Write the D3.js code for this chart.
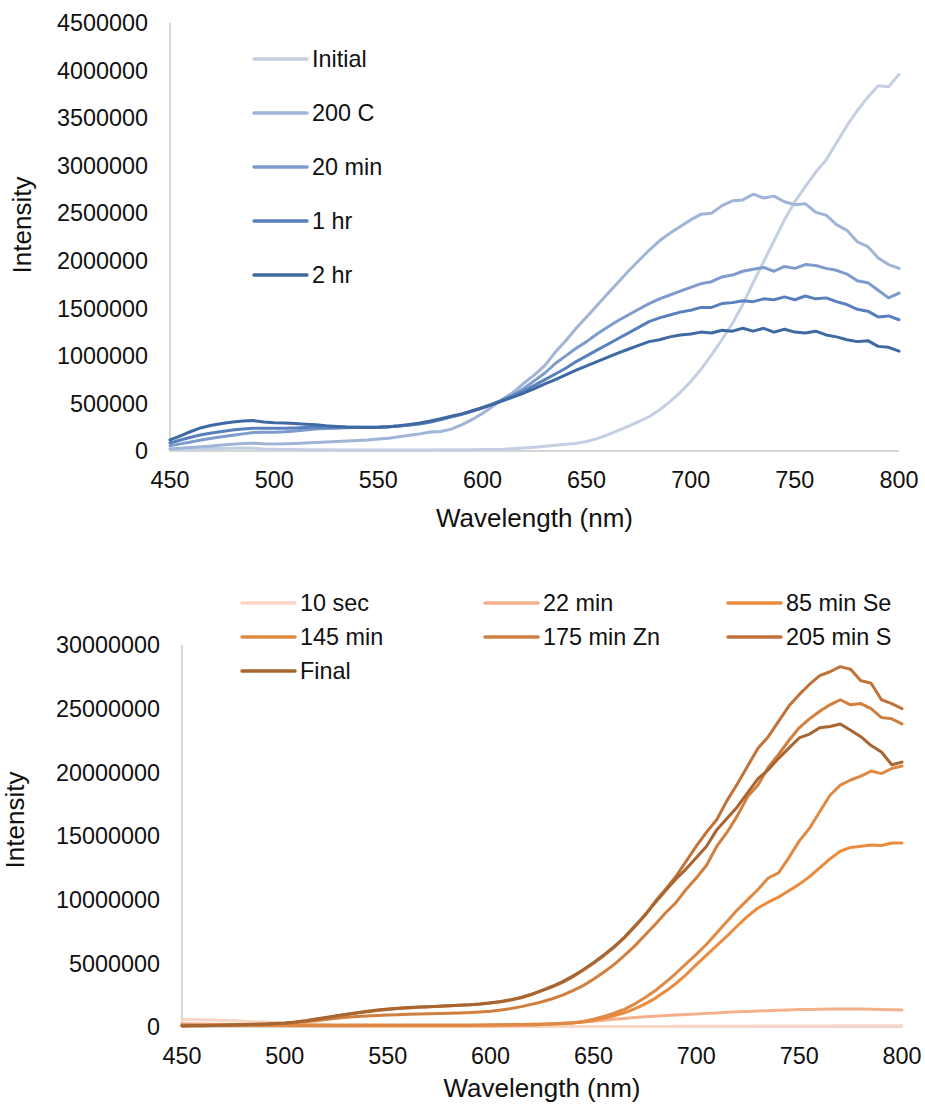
<!DOCTYPE html>
<html>
<head>
<meta charset="utf-8">
<script src="https://cdn.jsdelivr.net/npm/d3@7/dist/d3.min.js"></script>
<style>
  html, body { margin: 0; padding: 0; background: #fff; }
  svg { display: block; font-family: "Liberation Sans", Arial, sans-serif; }
</style>
</head>
<body>
<svg id="chart" width="925" height="1107"></svg>
<script>
// Shared wavelength grid (nm), 5 nm steps
const wavelengths = d3.range(450, 801, 5);

// ---- Upper panel: emission spectra, blue series ----
const topNames = ["Initial", "200 C", "20 min", "1 hr", "2 hr"];
const topColors = ["#c4cfe4", "#a0b4d8", "#7d9bcc", "#5880be", "#3f69a3"];
const topTicksY = [0, 500000, 1000000, 1500000, 2000000, 2500000, 3000000, 3500000, 4000000, 4500000];
const ticksX = [450, 500, 550, 600, 650, 700, 750, 800];

const initialVals = [
  15000, 18000, 20000, 22000, 25000, 27000, 30000, 32000, 30000, 22000,
  18000, 16000, 15000, 14000, 13000, 12000, 11000, 10000, 10000, 10000,
  10000, 10000, 10000, 10000, 11000, 11000, 12000, 12000, 13000, 14000,
  15000, 17000, 19000, 25000, 32000, 40000, 50000, 60000, 70000, 80000,
  100000, 130000, 170000, 215000, 260000, 310000, 360000, 430000, 520000, 615000,
  730000, 860000, 1010000, 1170000, 1340000, 1540000, 1770000, 1990000, 2210000, 2430000,
  2620000, 2780000, 2930000, 3060000, 3240000, 3420000, 3580000, 3720000, 3840000, 3830000,
  3960000
];
const c200Vals = [
  21000, 28000, 36000, 45000, 52000, 62000, 72000, 80000, 82000, 76000,
  73000, 76000, 80000, 85000, 90000, 95000, 100000, 105000, 110000, 115000,
  125000, 135000, 150000, 165000, 180000, 200000, 205000, 230000, 275000, 330000,
  395000, 470000, 550000, 620000, 715000, 800000, 900000, 1040000, 1160000, 1290000,
  1410000, 1530000, 1650000, 1770000, 1890000, 2000000, 2110000, 2210000, 2290000, 2360000,
  2430000, 2490000, 2500000, 2580000, 2630000, 2640000, 2700000, 2660000, 2680000, 2620000,
  2590000, 2600000, 2510000, 2480000, 2380000, 2320000, 2200000, 2150000, 2030000, 1960000,
  1920000
];
const m20Vals = [
  56000, 75000, 95000, 115000, 135000, 150000, 165000, 180000, 195000, 196000,
  198000, 202000, 210000, 220000, 230000, 236000, 240000, 244000, 247000, 249000,
  250000, 255000, 262000, 272000, 287000, 305000, 330000, 360000, 385000, 420000,
  455000, 495000, 540000, 590000, 660000, 740000, 820000, 920000, 1000000, 1080000,
  1150000, 1230000, 1300000, 1370000, 1430000, 1490000, 1550000, 1600000, 1640000, 1680000,
  1720000, 1760000, 1780000, 1830000, 1850000, 1890000, 1910000, 1930000, 1890000, 1940000,
  1920000, 1960000, 1950000, 1920000, 1900000, 1860000, 1790000, 1770000, 1690000, 1610000,
  1660000
];
const h1Vals = [
  84000, 115000, 145000, 170000, 189000, 205000, 220000, 232000, 240000, 238000,
  238000, 240000, 243000, 246000, 249000, 250000, 250000, 250000, 250000, 250000,
  250000, 255000, 262000, 272000, 287000, 305000, 330000, 360000, 385000, 420000,
  455000, 495000, 540000, 585000, 630000, 690000, 750000, 810000, 870000, 940000,
  1000000, 1060000, 1120000, 1180000, 1240000, 1300000, 1360000, 1400000, 1430000, 1460000,
  1480000, 1510000, 1510000, 1550000, 1560000, 1580000, 1570000, 1600000, 1590000, 1620000,
  1590000, 1630000, 1600000, 1610000, 1570000, 1540000, 1490000, 1470000, 1410000, 1420000,
  1380000
];
const h2Vals = [
  116000, 160000, 205000, 245000, 270000, 290000, 305000, 315000, 320000, 305000,
  298000, 294000, 290000, 282000, 275000, 265000, 258000, 252000, 249000, 248000,
  249000, 255000, 265000, 280000, 295000, 315000, 340000, 365000, 390000, 420000,
  455000, 490000, 530000, 570000, 610000, 655000, 705000, 750000, 800000, 850000,
  895000, 940000, 985000, 1030000, 1070000, 1110000, 1150000, 1170000, 1200000, 1220000,
  1230000, 1250000, 1240000, 1270000, 1260000, 1290000, 1260000, 1290000, 1250000, 1280000,
  1250000, 1240000, 1260000, 1220000, 1200000, 1170000, 1150000, 1160000, 1100000, 1090000,
  1050000
];
const topSeries = [initialVals, c200Vals, m20Vals, h1Vals, h2Vals];

// ---- Lower panel: emission spectra, orange series ----
const bottomNames = ["10 sec", "22 min", "85 min Se", "145 min", "175 min Zn", "205 min S", "Final"];
const bottomColors = ["#f9d5c6", "#f4b08c", "#ea8b3e", "#df8a44", "#d07f3e", "#c07238", "#a8652f"];
const bottomTicksY = [0, 5000000, 10000000, 15000000, 20000000, 25000000, 30000000];

const sec10Vals = [
  580000, 580000, 570000, 550000, 520000, 490000, 450000, 420000, 400000, 360000,
  320000, 280000, 240000, 200000, 160000, 120000, 90000, 60000, 40000, 40000,
  40000, 40000, 40000, 40000, 40000, 40000, 40000, 40000, 40000, 40000,
  30000, 30000, 30000, 30000, 30000, 30000, 30000, 30000, 30000, 30000,
  30000, 30000, 35000, 35000, 40000, 40000, 45000, 45000, 50000, 50000,
  55000, 55000, 60000, 60000, 65000, 65000, 70000, 70000, 75000, 75000,
  80000, 80000, 85000, 85000, 90000, 90000, 95000, 95000, 100000, 100000,
  100000
];
const min22Vals = [
  250000, 240000, 230000, 220000, 205000, 190000, 175000, 160000, 145000, 130000,
  115000, 100000, 90000, 85000, 80000, 80000, 80000, 80000, 80000, 80000,
  80000, 80000, 80000, 80000, 80000, 80000, 80000, 80000, 80000, 80000,
  80000, 90000, 100000, 110000, 120000, 170000, 220000, 270000, 330000, 390000,
  460000, 530000, 600000, 670000, 740000, 800000, 850000, 900000, 950000, 990000,
  1030000, 1070000, 1100000, 1150000, 1190000, 1220000, 1250000, 1280000, 1310000, 1340000,
  1370000, 1380000, 1400000, 1410000, 1420000, 1420000, 1410000, 1400000, 1380000, 1360000,
  1340000
];
const se85Vals = [
  120000, 120000, 120000, 120000, 120000, 120000, 120000, 120000, 120000, 120000,
  120000, 120000, 120000, 120000, 120000, 120000, 120000, 120000, 120000, 120000,
  120000, 120000, 120000, 120000, 120000, 120000, 120000, 120000, 120000, 130000,
  140000, 150000, 160000, 170000, 180000, 200000, 230000, 270000, 310000, 400000,
  520000, 680000, 880000, 1120000, 1420000, 1800000, 2250000, 2800000, 3400000, 4100000,
  4900000, 5650000, 6400000, 7150000, 7950000, 8700000, 9350000, 9800000, 10200000, 10700000,
  11200000, 11800000, 12500000, 13200000, 13800000, 14100000, 14200000, 14300000, 14250000, 14450000,
  14450000
];
const min145Vals = [
  150000, 150000, 150000, 150000, 150000, 150000, 150000, 150000, 150000, 150000,
  150000, 150000, 150000, 150000, 150000, 150000, 150000, 150000, 150000, 150000,
  150000, 150000, 150000, 150000, 150000, 150000, 150000, 150000, 150000, 160000,
  170000, 180000, 190000, 200000, 210000, 230000, 260000, 300000, 340000, 440000,
  620000, 820000, 1080000, 1380000, 1800000, 2300000, 2850000, 3500000, 4200000, 4950000,
  5700000, 6500000, 7400000, 8300000, 9200000, 10000000, 10800000, 11700000, 12100000, 13300000,
  14600000, 15600000, 16900000, 18200000, 19000000, 19400000, 19700000, 20100000, 19900000, 20300000,
  20500000
];
const zn175Vals = [
  80000, 90000, 100000, 110000, 120000, 135000, 150000, 170000, 200000, 240000,
  280000, 350000, 420000, 500000, 580000, 680000, 760000, 820000, 870000, 910000,
  940000, 970000, 1000000, 1020000, 1040000, 1060000, 1080000, 1100000, 1130000, 1180000,
  1240000, 1330000, 1450000, 1600000, 1780000, 1980000, 2220000, 2500000, 2850000, 3250000,
  3750000, 4300000, 4900000, 5600000, 6350000, 7200000, 8050000, 8950000, 9750000, 10800000,
  11700000, 12700000, 14200000, 15300000, 16600000, 18100000, 19000000, 20400000, 21400000, 22500000,
  23500000, 24200000, 24800000, 25300000, 25700000, 25300000, 25400000, 25000000, 24300000, 24200000,
  23800000
];
const s205Vals = [
  80000, 90000, 100000, 115000, 130000, 150000, 170000, 195000, 220000, 260000,
  300000, 380000, 480000, 600000, 720000, 850000, 980000, 1100000, 1200000, 1300000,
  1380000, 1450000, 1500000, 1550000, 1590000, 1620000, 1660000, 1700000, 1740000, 1800000,
  1880000, 1980000, 2120000, 2300000, 2550000, 2850000, 3150000, 3500000, 3950000, 4450000,
  5000000, 5600000, 6250000, 7000000, 7850000, 8750000, 9850000, 10800000, 11800000, 13000000,
  14200000, 15300000, 16300000, 17800000, 19100000, 20500000, 21900000, 22800000, 24000000, 25200000,
  26100000, 26900000, 27600000, 27900000, 28300000, 28100000, 27200000, 27000000, 25700000, 25400000,
  25000000
];
const finalVals = [
  100000, 110000, 120000, 135000, 150000, 170000, 190000, 215000, 240000, 280000,
  320000, 400000, 500000, 620000, 750000, 880000, 1000000, 1120000, 1230000, 1330000,
  1410000, 1480000, 1530000, 1570000, 1600000, 1630000, 1670000, 1710000, 1750000, 1810000,
  1900000, 2000000, 2150000, 2340000, 2580000, 2880000, 3200000, 3560000, 4000000, 4500000,
  5050000, 5650000, 6300000, 7050000, 7900000, 8800000, 9750000, 10700000, 11600000, 12400000,
  13300000, 14200000, 15500000, 16400000, 17300000, 18400000, 19500000, 20200000, 21100000, 21900000,
  22700000, 23000000, 23500000, 23600000, 23800000, 23300000, 22800000, 22100000, 21600000, 20600000,
  20800000
];
const bottomSeries = [sec10Vals, min22Vals, se85Vals, min145Vals, zn175Vals, s205Vals, finalVals];

const svg = d3.select("#chart");
const TICK_FONT = 23.4;
const TITLE_FONT = 26;

function drawPanel(p) {
  const x = d3.scaleLinear().domain([450, 800]).range([p.left, p.right]);
  const y = d3.scaleLinear().domain([0, p.yMax]).range([p.bottom, p.top]);
  const g = svg.append("g");

  // x baseline and y axis line
  g.append("line").attr("x1", p.left).attr("x2", p.right)
    .attr("y1", p.bottom).attr("y2", p.bottom)
    .attr("stroke", "#c8c8c8").attr("stroke-width", 1.5);
  g.append("line").attr("x1", p.left).attr("x2", p.left)
    .attr("y1", p.top).attr("y2", p.bottom)
    .attr("stroke", "#c8c8c8").attr("stroke-width", 1.5);

  // y tick labels
  g.selectAll(".yt").data(p.yTicks).join("text")
    .attr("x", p.left - 22).attr("y", d => y(d))
    .attr("dy", "0.35em").attr("text-anchor", "end")
    .attr("font-size", TICK_FONT).attr("fill", "#111")
    .text(d => d3.format("d")(d));

  // x tick labels
  g.selectAll(".xt").data(ticksX).join("text")
    .attr("x", d => x(d)).attr("y", p.bottom + 29)
    .attr("dy", "0.35em").attr("text-anchor", "middle")
    .attr("font-size", TICK_FONT).attr("fill", "#111")
    .text(d => d);

  // axis titles
  g.append("text").attr("x", (p.left + p.right) / 2).attr("y", p.bottom + p.xTitleGap)
    .attr("dy", "0.35em").attr("text-anchor", "middle")
    .attr("font-size", TITLE_FONT).attr("fill", "#111").text("Wavelength (nm)");
  g.append("text")
    .attr("transform", `translate(${p.yTitleX},${p.yTitleY}) rotate(-90)`)
    .attr("dy", "0.35em").attr("text-anchor", "middle")
    .attr("font-size", TITLE_FONT).attr("fill", "#111").text("Intensity");

  // series
  const line = d3.line().x((d, i) => x(wavelengths[i])).y(d => y(d));
  p.series.forEach((vals, i) => {
    g.append("path").datum(vals)
      .attr("d", line)
      .attr("fill", "none")
      .attr("stroke", p.colors[i])
      .attr("stroke-width", 3)
      .attr("stroke-linejoin", "round")
      .attr("stroke-linecap", "round");
  });

  // legend
  p.names.forEach((name, i) => {
    const pos = p.legendPos(i);
    g.append("line").attr("x1", pos.x).attr("x2", pos.x + 53)
      .attr("y1", pos.y).attr("y2", pos.y)
      .attr("stroke", p.colors[i]).attr("stroke-width", 3.5)
      .attr("stroke-linecap", "round");
    g.append("text").attr("x", pos.x + 58).attr("y", pos.y)
      .attr("dy", "0.35em").attr("font-size", TICK_FONT).attr("fill", "#111")
      .text(name);
  });
}

drawPanel({
  left: 170, right: 899, top: 23, bottom: 451,
  yMax: 4500000, yTicks: topTicksY, xTitleGap: 67,
  yTitleX: 22, yTitleY: 225,
  series: topSeries, colors: topColors, names: topNames,
  legendPos: i => ({ x: 254, y: 59 + i * 54 })
});

drawPanel({
  left: 182, right: 902, top: 645, bottom: 1027,
  yMax: 30000000, yTicks: bottomTicksY, xTitleGap: 61,
  yTitleX: 15, yTitleY: 820,
  series: bottomSeries, colors: bottomColors, names: bottomNames,
  legendPos: i => ({ x: 242 + (i % 3) * 243, y: 603 + Math.floor(i / 3) * 34 })
});
</script>
</body>
</html>
